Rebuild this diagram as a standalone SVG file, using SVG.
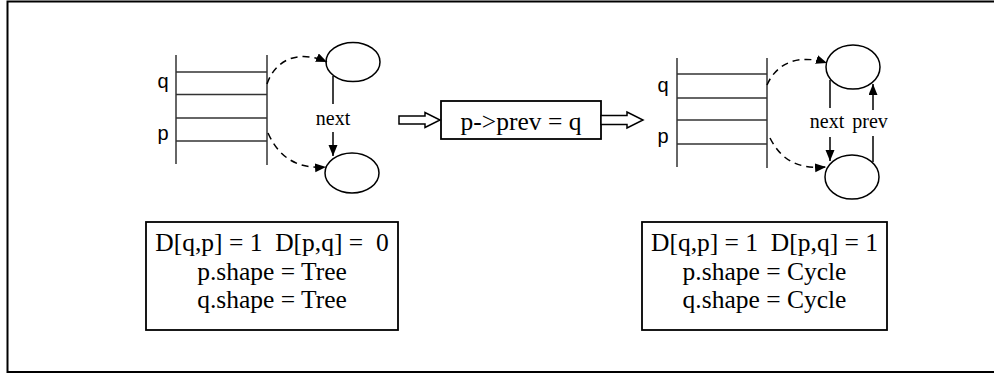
<svg xmlns="http://www.w3.org/2000/svg" width="994" height="375" viewBox="0 0 994 375">
<defs>
<marker id="ah" markerUnits="userSpaceOnUse" markerWidth="12" markerHeight="10" refX="11" refY="4.5" orient="auto">
<path d="M0,0 L11,4.5 L0,9 z" fill="#000"/>
</marker>
<style>
.frame{fill:none;stroke:#000;stroke-width:2}
.st{stroke:#333;stroke-width:1.5;fill:none}
.el{fill:#fff;stroke:#000;stroke-width:1.5}
.ln{stroke:#000;stroke-width:1.5;fill:none}
.dash{stroke:#000;stroke-width:1.5;fill:none;stroke-dasharray:7,5}
.box{fill:#fff;stroke:#000;stroke-width:1.8}
.hollow{fill:#fff;stroke:#000;stroke-width:1.5}
.lab{font-family:"Liberation Sans",Arial,sans-serif;font-size:20px;fill:#000}
.ser{font-family:"Liberation Serif","Times New Roman",serif;fill:#000}
</style>
</defs>
<rect class="frame" x="7.5" y="1.5" width="1000" height="370.5"/>

<g id="left-stack">
<line class="st" x1="176" y1="55" x2="176" y2="164"/>
<line class="st" x1="267" y1="55" x2="267" y2="165"/>
<line class="st" x1="176" y1="72" x2="267" y2="72"/>
<line class="st" x1="176" y1="94.5" x2="267" y2="94.5"/>
<line class="st" x1="176" y1="118" x2="267" y2="118"/>
<line class="st" x1="176" y1="141" x2="267" y2="141"/>
<text class="lab" x="163" y="88" text-anchor="middle">q</text>
<text class="lab" x="163" y="140" text-anchor="middle">p</text>
</g>
<g id="left-top-node"><ellipse class="el" cx="353" cy="62" rx="27" ry="19.5"/></g>
<g id="left-bottom-node"><ellipse class="el" cx="352" cy="173" rx="27" ry="20"/></g>

<g id="middle-box">
<rect class="box" x="441" y="101" width="160" height="38"/>
<text class="ser" x="521" y="130" font-size="25.5" text-anchor="middle">p-&gt;prev = q</text>
</g>

<g id="right-stack">
<line class="st" x1="677" y1="58" x2="677" y2="167"/>
<line class="st" x1="767" y1="58" x2="767" y2="168"/>
<line class="st" x1="677" y1="74" x2="767" y2="74"/>
<line class="st" x1="677" y1="98" x2="767" y2="98"/>
<line class="st" x1="677" y1="120" x2="767" y2="120"/>
<line class="st" x1="677" y1="144" x2="767" y2="144"/>
<text class="lab" x="663" y="92" text-anchor="middle">q</text>
<text class="lab" x="663" y="143" text-anchor="middle">p</text>
</g>
<g id="right-top-node"><ellipse class="el" cx="853" cy="67" rx="27" ry="22"/></g>
<g id="right-bottom-node"><ellipse class="el" cx="852" cy="177" rx="27" ry="22"/></g>

<g id="left-info">
<rect class="box" x="146" y="222" width="252" height="108"/>
<text class="ser" font-size="25.5" text-anchor="middle" xml:space="preserve"><tspan x="272" y="251">D[q,p] = 1  D[p,q] =  0</tspan><tspan x="272" y="280">p.shape = Tree</tspan><tspan x="272" y="308">q.shape = Tree</tspan></text>
</g>
<g id="right-info">
<rect class="box" x="642" y="222" width="245" height="108"/>
<text class="ser" font-size="25.5" text-anchor="middle" xml:space="preserve"><tspan x="764.5" y="251">D[q,p] = 1  D[p,q] = 1</tspan><tspan x="764.5" y="280">p.shape = Cycle</tspan><tspan x="764.5" y="308">q.shape = Cycle</tspan></text>
</g>

<g id="connectors">
<path class="dash" d="M267,84 C276,58 300,50 327,62" marker-end="url(#ah)"/>
<path class="dash" d="M268,133 C280,160 300,169 326,167" marker-end="url(#ah)"/>
<line class="ln" x1="333" y1="76" x2="333" y2="104"/>
<line class="ln" x1="333" y1="132" x2="333" y2="156" marker-end="url(#ah)"/>
<text class="ser" x="333" y="125" font-size="20" text-anchor="middle">next</text>

<polygon class="hollow" points="399,116 425,116 425,112.5 440,120 425,127.5 425,124 399,124"/>
<polygon class="hollow" points="601,115.5 627,115.5 627,112 643,120 627,128 627,124.5 601,124.5"/>

<path class="dash" d="M767,85 C777,62 800,54 827,63" marker-end="url(#ah)"/>
<path class="dash" d="M770,138 C782,162 800,169 826,167" marker-end="url(#ah)"/>
<line class="ln" x1="830" y1="80" x2="830" y2="108"/>
<line class="ln" x1="830" y1="137" x2="830" y2="161" marker-end="url(#ah)"/>
<text class="ser" x="827" y="128" font-size="20" text-anchor="middle">next</text>
<line class="ln" x1="873" y1="162" x2="873" y2="136"/>
<line class="ln" x1="873" y1="110" x2="873" y2="84" marker-end="url(#ah)"/>
<text class="ser" x="870" y="128" font-size="20" text-anchor="middle">prev</text>
</g>
</svg>
